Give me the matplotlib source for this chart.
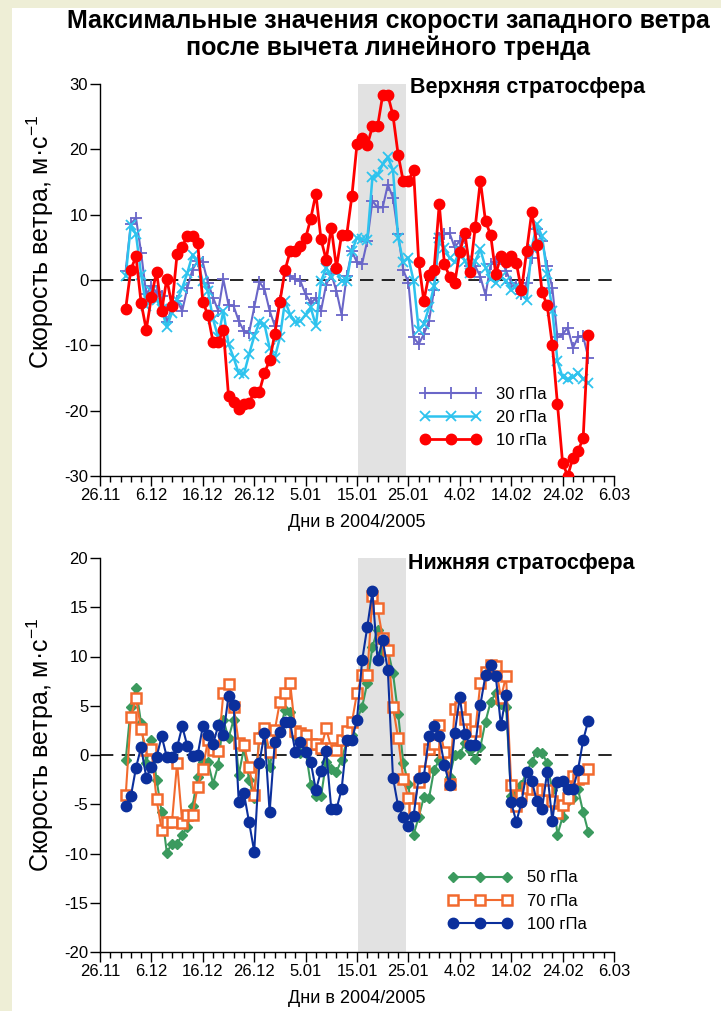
import numpy as np
import pandas as pd
import matplotlib
matplotlib.use('Agg')
import matplotlib.pyplot as plt
from matplotlib.patches import Rectangle

plt.rcParams['font.family'] = ['Liberation Sans', 'DejaVu Sans']
plt.rcParams['mathtext.fontset'] = 'custom'
plt.rcParams['mathtext.rm'] = 'Liberation Sans'
plt.rcParams['mathtext.it'] = 'Liberation Sans:italic'
plt.rcParams['axes.unicode_minus'] = False

# дни 1.12.2004 - 1.03.2005
days = pd.date_range('2004-12-01', '2005-03-01', freq='D')

tick_dates = pd.date_range('2004-11-26', periods=11, freq='10D')
tick_labels = ['26.11', '6.12', '16.12', '26.12', '5.01', '15.01',
               '25.01', '4.02', '14.02', '24.02', '6.03']
band = (pd.Timestamp('2005-01-15 05:00'), pd.Timestamp('2005-01-24 12:00'))

# верхняя стратосфера
w30 = [1.4, 8.6, 9.5, 4.2, -2.2, -0.9, -1.9, -2.4, -6.5, -4.2, -3.2, -4.7, -1.2, 1.6, 2.9, 2.7,
       -0.4, -2.7, -4.7, 0.1, -3.8, -4.0, -6.3,
       -7.8, -8.1, -4.2, -0.3, -1.4, -4.7, -7.0, -3.2, 1.4, 0.6, 0.1, -0.2, -2.2, -3.5, -2.8,
       -4.7, -0.7, 0.9, -1.7, -5.3, 0.6, 4.4, 2.7,
       2.5, 6.0, 12.1, 11.1, 11.1, 14.6, 12.6, 7.0, 1.5, -0.4, -8.8, -9.8, -8.3, -6.3, -1.5,
       6.5, 7.0, 7.2, 5.0, 6.0, 6.5, 2.1, 2.1, 0.5, -2.3,
       2.4, 2.7, 3.2, 1.4, -0.4, -0.9, -2.2, -0.4, 3.4, 7.8, 6.0, 2.1, -1.2, -8.8, -8.3, -7.3,
       -10.4, -8.8, -8.6, -11.9]
w20 = [0.6, 8.4, 7.0, 0.8, -4.0, -1.7, -3.0, -4.5, -7.2, -5.0, -3.0, -1.2, 1.1, 3.9, 2.7, -0.2,
       -1.7, -6.0, -8.8, -4.7, -9.8, -11.9, -14.3,
       -14.4, -11.4, -8.6, -6.5, -6.8, -10.4, -11.9, -8.8, -3.2, -5.3, -6.5, -6.3, -5.3, -4.2,
       -7.0, -0.2, 1.9, 0.4, 1.4, -0.2, -0.2, 4.4, 6.5,
       6.2, 6.1, 15.7, 16.1, 17.7, 18.8, 16.8, 6.5, 2.7, 3.4, -0.1, -7.6, -6.8, -4.2, -0.9,
       6.5, 4.9, 3.4, 2.7, 4.4, 2.9, 1.1, 2.9, 4.7, 1.9,
       0.1, -0.4, 0.5, -0.1, -1.6, -0.9, -2.2, -3.0, 4.9, 8.5, 6.7, 0.9, -4.7, -12.4, -14.9,
       -15.2, -14.9, -14.2, -15.2, -15.7]
w10 = [-4.4, 1.6, 3.6, -3.5, -7.6, -2.6, 1.3, -4.7, 0.2, -4.0, 4.0, 5.1, 6.8, 6.8, 5.7, -3.3,
       -5.4, -9.5, -9.5, -7.6, -17.7, -18.7, -19.8,
       -19.0, -18.9, -17.1, -17.1, -14.2, -12.3, -8.3, -3.3, 1.5, 4.4, 4.4, 5.2, 6.4, 9.4,
       13.2, 6.2, 3.1, 8.0, 1.9, 6.9, 6.9, 12.8, 20.8,
       21.8, 20.6, 23.5, 23.5, 28.3, 28.3, 25.2, 19.2, 15.1, 15.1, 16.9, 2.8, -3.2, 0.8, 1.6,
       11.6, 2.5, 0.5, -0.5, 4.3, 7.2, 1.2, 8.1, 15.2, 9.0,
       6.9, 0.9, 3.7, 2.7, 3.7, 2.6, -1.6, 4.4, 10.4, 5.4, -1.8, -3.9, -9.9, -19.0, -28.0,
       -30.0, -27.2, -26.2, -24.2, -8.4]

# нижняя стратосфера
w50 = [-0.5, 4.9, 6.8, 3.2, -0.8, 1.5, -2.5, -5.8, -9.9, -9.0, -9.0, -8.1, -7.3, -5.2, -2.2,
       -0.7, -0.7, -2.9, -1.0, 3.6, 1.7, 3.6, -2.0,
       0.7, -2.5, -4.4, 1.9, 2.2, -1.2, 1.5, 2.5, 4.6, 4.4, 1.9, 0.2, 0.5, -3.0, -4.2, -4.2,
       -0.7, -1.4, -1.7, -0.5, 1.4, 2.0, 3.6,
       4.9, 7.3, 11.0, 12.7, 10.5, 10.7, 8.3, 4.2, -0.8, -2.9, -8.1, -6.3, -4.3, -4.4, -1.5,
       -0.5, -0.8, -2.2, 0.0, 0.1, 1.2, 0.5, -0.4, 0.8, 3.4,
       5.4, 6.3, 5.2, 4.9, -4.2, -3.9, -3.0, -1.7, -0.7, 0.3, 0.2, -0.8, -3.6, -8.1, -6.3,
       -4.7, -4.4, -3.5, -5.8, -7.8]
w70 = [-4.1, 3.9, 5.8, 2.6, 0.5, 0.6, -4.5, -7.6, -6.8, -6.8, -0.8, -6.9, -6.1, -6.1, -3.2,
       -1.4, 1.5, 0.5, 0.4, 6.3, 7.2, 4.9, 1.2,
       1.0, -1.2, -4.1, 1.7, 2.7, 0.3, 2.5, 5.4, 6.3, 7.3, 2.4, 2.2, 2.0, 1.1, 1.1, 0.7, 2.7,
       0.7, 0.5, 1.5, 2.4, 3.3, 6.3,
       8.1, 8.1, 16.1, 14.9, 11.9, 10.7, 4.9, 1.7, -2.4, -4.4, -5.4, -2.7, -1.6, 0.6, 1.1,
       3.0, 0.3, -2.9, 4.7, 4.9, 3.7, 1.5, 2.4, 7.3, 8.4,
       9.1, 9.0, 5.8, 8.0, -3.0, -5.2, -4.1, -3.4, -3.5, -3.5, -3.6, -3.6, -4.7, -5.9, -5.1,
       -4.4, -2.1, -2.4, -2.3, -1.4]
w100 = [-5.2, -4.2, -1.3, 0.8, -2.3, -1.2, -0.2, 1.9, -0.2, -0.2, 0.8, 2.9, 0.9, -0.1, 0.0,
        2.9, 2.0, 1.1, 3.0, 2.0, 6.0, 5.1, -4.8,
        -3.9, -6.8, -9.8, -0.8, 2.2, -5.8, 1.3, 2.3, 3.3, 3.3, 0.3, 1.3, 0.3, -0.7, -3.6,
        -1.6, 0.4, -5.5, -5.5, -3.5, 1.5, 1.5, 3.6,
        9.6, 13.0, 16.6, 9.6, 11.7, 8.6, -2.3, -5.2, -6.3, -7.2, -6.2, -2.3, -2.2, 1.9, 2.9,
        1.9, -1.0, -3.0, 2.2, 5.9, 2.1, 1.0, 1.0, 5.1, 8.1,
        9.1, 8.0, 3.0, 6.1, -4.8, -6.8, -4.8, -1.7, -2.6, -4.7, -5.5, -1.7, -6.7, -2.7, -2.6,
        -3.5, -3.5, -1.5, 1.5, 3.5]

W, H = 721, 1011
fig = plt.figure(figsize=(W / 100, H / 100), dpi=100)
fig.patch.set_facecolor('#eeeed6')
fig.add_artist(Rectangle((12 / W, 0), 1, 1 - 8 / H, transform=fig.transFigure,
                         facecolor='white', edgecolor='none', zorder=-5))

fig.text(388 / W, 1 - 21 / H, 'Максимальные значения скорости западного ветра',
         ha='center', va='center', fontsize=18, fontweight='bold')
fig.text(388 / W, 1 - 48 / H, 'после вычета линейного тренда',
         ha='center', va='center', fontsize=18, fontweight='bold')

ax1 = fig.add_axes([100 / W, 1 - 476 / H, 514 / W, 392 / H])
ax2 = fig.add_axes([100 / W, 1 - 952 / H, 514 / W, 394 / H])

for ax in (ax1, ax2):
    ax.axvspan(band[0], band[1], color='#e2e2e2', lw=0, zorder=0)
    ax.axhline(0, color='black', lw=1.2, ls=(0, (8, 5)), zorder=1)
    for s in ('top', 'right'):
        ax.spines[s].set_visible(False)
    ax.spines['left'].set_linewidth(1.0)
    ax.spines['bottom'].set_linewidth(1.0)
    ax.set_xlim(pd.Timestamp('2004-11-26'), pd.Timestamp('2005-03-06'))
    ax.set_xticks(tick_dates)
    ax.set_xticklabels(tick_labels)
    ax.set_xticks(pd.date_range('2004-11-26', '2005-03-06', freq='2D'), minor=True)
    ax.tick_params(which='major', direction='out', length=7, width=1, labelsize=12, pad=1.5)
    ax.tick_params(which='minor', direction='out', length=4, width=1)
    ax.set_xlabel('Дни в 2004/2005', fontsize=13, labelpad=8)

# верхняя панель
ax1.plot(days, w30, color='#6a66c8', lw=1.5, marker='+', ms=9, mew=1.3, label='30 гПа', zorder=3)
ax1.plot(days, w20, color='#2ec3ee', lw=1.8, marker='x', ms=7, mew=1.3, label='20 гПа', zorder=4)
ax1.plot(days, w10, color='#ff0000', lw=2.0, marker='o', ms=7.5, label='10 гПа', zorder=5)
ax1.set_ylim(-30, 30)
ax1.set_yticks(np.arange(-30, 31, 10))
ax1.legend(loc='upper left', bbox_to_anchor=(0.622, 0.228), frameon=False, fontsize=12,
           handlelength=3.7, handletextpad=0.9, labelspacing=0.5, numpoints=3,
           borderpad=0, borderaxespad=0)
fig.text(410 / W, 1 - 88 / H, 'Верхняя стратосфера', ha='left', va='center',
         fontsize=15.5, fontweight='bold')
fig.text(40 / W, 1 - 242 / H, 'Скорость ветра, м·с$^{-1}$', rotation=90,
         ha='center', va='center', fontsize=18)

# нижняя панель
ax2.plot(days, w50, color='#3b9a5e', lw=1.5, marker='D', ms=5.5, label='50 гПа', zorder=3)
ax2.plot(days, w70, color='#f26a2e', lw=1.5, marker='s', ms=6.5, mfc='white', mec='#f26a2e',
         mew=1.8, label='70 гПа', zorder=4)
ax2.plot(days, w100, color='#0b2f9c', lw=1.5, marker='o', ms=7.5, label='100 гПа', zorder=5)
ax2.set_ylim(-20, 20)
ax2.set_yticks(np.arange(-20, 21, 5))
ax2.legend(loc='upper left', bbox_to_anchor=(0.678, 0.207), frameon=False, fontsize=12,
           handlelength=3.8, handletextpad=0.9, labelspacing=0.5, numpoints=3,
           borderpad=0, borderaxespad=0)
fig.text(408 / W, 1 - 563 / H, 'Нижняя стратосфера', ha='left', va='center',
         fontsize=15.5, fontweight='bold')
fig.text(40 / W, 1 - 745 / H, 'Скорость ветра, м·с$^{-1}$', rotation=90,
         ha='center', va='center', fontsize=18)

fig.savefig('out.png', dpi=100, facecolor=fig.get_facecolor())
